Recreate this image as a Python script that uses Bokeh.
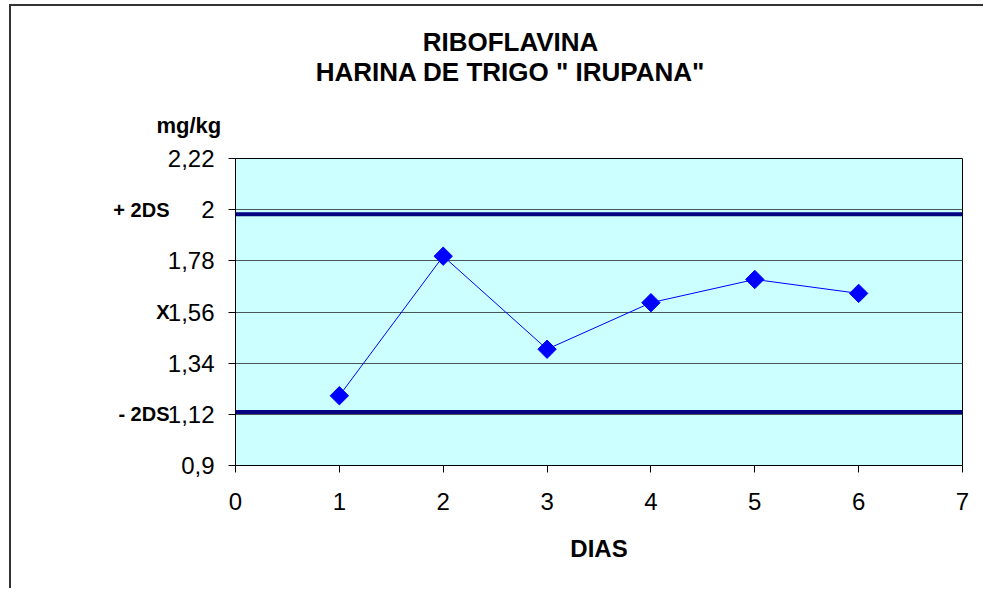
from bokeh.plotting import figure
from bokeh.models import FixedTicker, Span, Title, LinearAxis
from bokeh.embed import file_html
from bokeh.resources import INLINE
import numpy as np

# ---- data ----
dias = [1, 2, 3, 4, 5, 6]
riboflavina = [1.20, 1.80, 1.40, 1.60, 1.70, 1.64]
upper_limit = 1.98   # + 2DS
lower_limit = 1.13   # - 2DS
x_ticks = [0, 1, 2, 3, 4, 5, 6, 7]
y_ticks = [0.9, 1.12, 1.34, 1.56, 1.78, 2.0, 2.22]
y_tick_labels = ["0,9", "1,12", "1,34", "1,56", "1,78", "2", "2,22"]
ref_values = [2.0, 1.56, 1.12]
ref_labels = ["+ 2DS", "X", "- 2DS"]
title_lines = ["RIBOFLAVINA", 'HARINA DE TRIGO " IRUPANA"']
unit_label = "mg/kg"
x_title = "DIAS"

FONT = "Liberation Sans"
TITLE_X = 2.648  # horizontal centre of the chart title (in day units)

p = figure(width=974, height=584, output_backend="svg", toolbar_location=None,
           x_range=(0, 7), y_range=(0.9, 2.22),
           min_border_left=224, min_border_right=23,
           min_border_top=152, min_border_bottom=125)
# outer chart frame: a shadow peeking out on the left and top edges
p.styles = {"margin-left": "11px", "margin-top": "6px",
            "box-shadow": "-2px -2px 0 0 #333333"}

p.background_fill_color = "#CCFFFF"
p.border_fill_color = "white"
p.outline_line_color = "black"
p.outline_line_width = 1

# axes
p.xaxis.ticker = FixedTicker(ticks=x_ticks)
p.yaxis.ticker = FixedTicker(ticks=y_ticks)
p.yaxis.major_label_overrides = dict(zip(y_ticks, y_tick_labels))
for ax in (p.xaxis[0], p.yaxis[0]):
    ax.axis_line_color = "black"
    ax.major_tick_line_color = "black"
    ax.major_tick_in = 0
    ax.major_tick_out = 7
    ax.minor_tick_line_color = None
    ax.major_label_text_font = FONT
    ax.major_label_text_font_size = "24px"
    ax.major_label_text_color = "black"
p.yaxis.major_label_standoff = 14
p.xaxis.major_label_standoff = 20
p.xaxis.axis_label = x_title
p.xaxis.axis_label_text_font = FONT
p.xaxis.axis_label_text_font_size = "24px"
p.xaxis.axis_label_text_font_style = "bold"
p.xaxis.axis_label_text_color = "black"
p.xaxis.axis_label_standoff = 22


def text_axis(ticks, labels, size, standoff):
    ax = LinearAxis(ticker=FixedTicker(ticks=ticks),
                    major_label_overrides=dict(zip(ticks, labels)))
    ax.axis_line_color = None
    ax.major_tick_line_color = None
    ax.minor_tick_line_color = None
    ax.major_tick_out = 0
    ax.major_tick_in = 0
    ax.major_label_standoff = standoff
    ax.major_label_text_font = FONT
    ax.major_label_text_font_size = size
    ax.major_label_text_font_style = "bold"
    ax.major_label_text_color = "black"
    return ax


# reference-level labels (+2DS, X, -2DS) as an extra left axis
p.add_layout(text_axis(ref_values, ref_labels, "20px", -5), "left")

p.xgrid.grid_line_color = None
p.ygrid.grid_line_color = "#485858"
p.ygrid.grid_line_width = 1

# control limits
for lim in (upper_limit, lower_limit):
    p.add_layout(Span(location=lim, dimension="width", line_color="#000080", line_width=4))

# series
p.line(dias, riboflavina, line_color="#0000FF", line_width=1)
p.scatter(dias, riboflavina, marker="square", angle=np.pi / 4, size=13,
          fill_color="#0000FF", line_color="#0000FF")

# above the frame, from the frame outwards: spacer, unit label, title line 2, title line 1
p.title.text = ""
p.add_layout(Title(text=" ", text_font_size="3.5px"), "above")
p.add_layout(Title(text=unit_label, align="left", offset=-79, text_font=FONT,
                   text_font_size="22px", text_font_style="bold", text_color="black"), "above")
p.add_layout(text_axis([TITLE_X], [title_lines[1]], "26px", 19), "above")
p.add_layout(text_axis([TITLE_X], [title_lines[0]], "26px", -3), "above")

open("out.html", "w").write(file_html(p, INLINE))
